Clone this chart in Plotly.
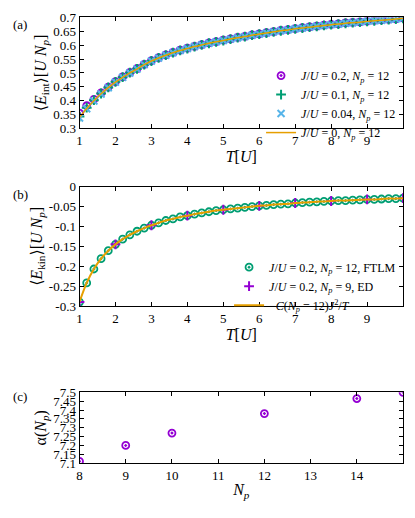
import plotly.graph_objects as go

T = [round(1 + 0.2 * i, 1) for i in range(46)]
E_int_J0 = [.340, .372, .400, .425, .447, .467, .484, .500, .514, .530, .543, .554, .564, .573, .581, .588,
            .595, .601, .607, .612, .617, .622, .627, .631, .636, .640, .644, .648, .652, .655, .659, .662,
            .665, .668, .671, .674, .676, .679, .681, .683, .686, .688, .690, .692, .694, .697]
E_int_J02 = [.355, .382, .405, .428, .449, .469, .486, .502, .516, .531, .544, .555, .565, .574, .582, .589,
             .596, .602, .608, .613, .618, .623, .628, .632, .637, .641, .645, .649, .653, .656, .660, .663,
             .666, .669, .672, .675, .677, .680, .682, .684, .687, .689, .691, .693, .695, .698]
E_int_J01 = [.343, .375, .402, .426, .448, .468, .485, .501, .515, .530, .543, .554, .564, .573, .581, .588,
             .595, .601, .607, .612, .617, .622, .627, .631, .636, .640, .644, .648, .652, .655, .659, .662,
             .665, .668, .671, .674, .676, .679, .681, .683, .686, .688, .690, .692, .694, .697]
E_int_J004 = [.338, .371, .399, .424, .447, .467, .484, .500, .514, .530, .543, .554, .564, .573, .581, .588,
              .595, .601, .607, .612, .617, .622, .627, .631, .636, .640, .644, .648, .652, .655, .659, .662,
              .665, .668, .671, .674, .676, .679, .681, .683, .686, .688, .690, .692, .694, .697]
E_kin_FTLM = [-.290, -.242, -.207, -.181, -.161, -.145, -.132, -.121, -.112, -.104, -.097, -.091, -.085, -.081,
              -.076, -.073, -.069, -.066, -.063, -.060, -.058, -.056, -.054, -.052, -.050, -.048, -.047, -.045,
              -.044, -.043, -.041, -.040, -.039, -.038, -.037, -.036, -.035, -.035, -.034, -.033, -.032, -.032,
              -.031, -.030, -.030, -.029]
T_ED = [1, 2, 3, 4, 5, 6, 7, 8, 9, 10]
E_kin_ED = [-.290, -.145, -.097, -.073, -.058, -.048, -.041, -.036, -.032, -.029]
E_kin_fit = E_kin_FTLM
Np = [8, 9, 10, 12, 14, 15]
alpha = [7.11, 7.20, 7.27, 7.38, 7.465, 7.50]

ticks_a = [0.3, 0.35, 0.4, 0.45, 0.5, 0.55, 0.6, 0.65, 0.7]
ticks_a_txt = ["0.3", "0.35", "0.4", "0.45", "0.5", "0.55", "0.6", "0.65", "0.7"]
ticks_b = [-0.3, -0.25, -0.2, -0.15, -0.1, -0.05, 0]
ticks_b_txt = ["-0.3", "-0.25", "-0.2", "-0.15", "-0.1", "-0.05", "0"]
ticks_c = [7.1, 7.15, 7.2, 7.25, 7.3, 7.35, 7.4, 7.45, 7.5]
ticks_c_txt = ["7.1", "7.15", "7.2", "7.25", "7.3", "7.35", "7.4", "7.45", "7.5"]

PURPLE, GREEN, CYAN, ORANGE = "#9400D3", "#009E73", "#56B4E9", "#E69F00"
F = "Liberation Serif, DejaVu Serif, serif"

fig = go.Figure()
ms = 7
fig.add_trace(go.Scatter(x=T, y=E_int_J02, mode="markers", name="<i>J</i>/<i>U</i> = 0.2, <i>N<sub>p</sub></i> = 12",
                         marker=dict(symbol="circle-open-dot", color=PURPLE, size=ms, line=dict(width=1.8)), legend="legend"))
fig.add_trace(go.Scatter(x=T, y=E_int_J01, mode="markers", name="<i>J</i>/<i>U</i> = 0.1, <i>N<sub>p</sub></i> = 12",
                         marker=dict(symbol="cross-thin", color=GREEN, size=ms, line=dict(width=2, color=GREEN)), legend="legend"))
fig.add_trace(go.Scatter(x=T, y=E_int_J004, mode="markers", name="<i>J</i>/<i>U</i> = 0.04, <i>N<sub>p</sub></i> = 12",
                         marker=dict(symbol="x-thin", color=CYAN, size=ms, line=dict(width=2, color=CYAN)), legend="legend"))
fig.add_trace(go.Scatter(x=T, y=E_int_J0, mode="lines", name="<i>J</i>/<i>U</i> = 0, <i>N<sub>p</sub></i> = 12",
                         line=dict(color=ORANGE, width=1.5, shape="spline"), legend="legend"))

fig.add_trace(go.Scatter(x=T, y=E_kin_FTLM, mode="markers", name="<i>J</i>/<i>U</i> = 0.2, <i>N<sub>p</sub></i> = 12, FTLM",
                         marker=dict(symbol="circle-open-dot", color=GREEN, size=ms, line=dict(width=1.8)),
                         xaxis="x2", yaxis="y2", legend="legend2"))
fig.add_trace(go.Scatter(x=T_ED, y=E_kin_ED, mode="markers", name="<i>J</i>/<i>U</i> = 0.2, <i>N<sub>p</sub></i> = 9, ED",
                         marker=dict(symbol="cross-thin", color=PURPLE, size=ms, line=dict(width=2, color=PURPLE)),
                         xaxis="x2", yaxis="y2", legend="legend2"))
fig.add_trace(go.Scatter(x=T, y=E_kin_fit, mode="lines", name="−<i>C</i>(<i>N<sub>p</sub></i> = 12)<i>J</i><sup>2</sup>/<i>T</i>",
                         line=dict(color=ORANGE, width=2, shape="spline"), xaxis="x2", yaxis="y2", legend="legend2"))

fig.add_trace(go.Scatter(x=Np, y=alpha, mode="markers", showlegend=False,
                         marker=dict(symbol="circle-open-dot", color=PURPLE, size=ms, line=dict(width=1.8)),
                         xaxis="x3", yaxis="y3"))

ax = dict(showgrid=False, zeroline=False, showline=True, linecolor="black", linewidth=1, mirror="ticks",
          ticks="inside", ticklen=4, tickcolor="black", tickfont=dict(family=F, size=13, color="black"))
dom = [0.173, 0.99]
LF = dict(family=F, size=12)
fig.update_layout(
    width=399, height=500, margin=dict(l=0, r=0, t=0, b=0),
    paper_bgcolor="white", plot_bgcolor="white", font=dict(family=F, size=13, color="black"),
    xaxis=dict(ax, domain=dom, range=[1, 10], dtick=1, anchor="y",
               title=dict(text="<i>T</i>[<i>U</i>]", standoff=2)),
    yaxis=dict(ax, domain=[0.766, 0.995], range=[0.3, 0.7], tickvals=ticks_a, ticktext=ticks_a_txt, anchor="x",
               title=dict(text="⟨<i>E</i><sub>int</sub>⟩[<i>U N<sub>p</sub></i>]", standoff=2)),
    xaxis2=dict(ax, domain=dom, range=[1, 10], dtick=1, anchor="y2",
                title=dict(text="<i>T</i>[<i>U</i>]", standoff=2)),
    yaxis2=dict(ax, domain=[0.40, 0.646], range=[-0.3, 0], tickvals=ticks_b, ticktext=ticks_b_txt, anchor="x2",
                title=dict(text="⟨<i>E</i><sub>kin</sub>⟩[<i>U N<sub>p</sub></i>]", standoff=2)),
    xaxis3=dict(ax, domain=dom, range=[8, 15], dtick=1, anchor="y3",
                title=dict(text="<i>N<sub>p</sub></i>", standoff=2)),
    yaxis3=dict(ax, domain=[0.076, 0.222], range=[7.1, 7.5], tickvals=ticks_c, ticktext=ticks_c_txt, anchor="x3",
                title=dict(text="α(<i>N<sub>p</sub></i>)", standoff=2)),
    legend=dict(x=0.985, y=0.905, xanchor="right", yanchor="top", bgcolor="rgba(0,0,0,0)",
                font=LF, tracegroupgap=0, itemwidth=30),
    legend2=dict(x=0.985, y=0.51, xanchor="right", yanchor="top", bgcolor="rgba(0,0,0,0)",
                 font=LF, tracegroupgap=0, itemwidth=30),
    annotations=[
        dict(text="(a)", x=0.0, y=1.0, xref="paper", yref="paper", xanchor="left", yanchor="top", showarrow=False, font=dict(size=13)),
        dict(text="(b)", x=0.0, y=0.65, xref="paper", yref="paper", xanchor="left", yanchor="top", showarrow=False, font=dict(size=13)),
        dict(text="(c)", x=0.0, y=0.232, xref="paper", yref="paper", xanchor="left", yanchor="top", showarrow=False, font=dict(size=13)),
    ],
)
fig.write_html("out.html")
